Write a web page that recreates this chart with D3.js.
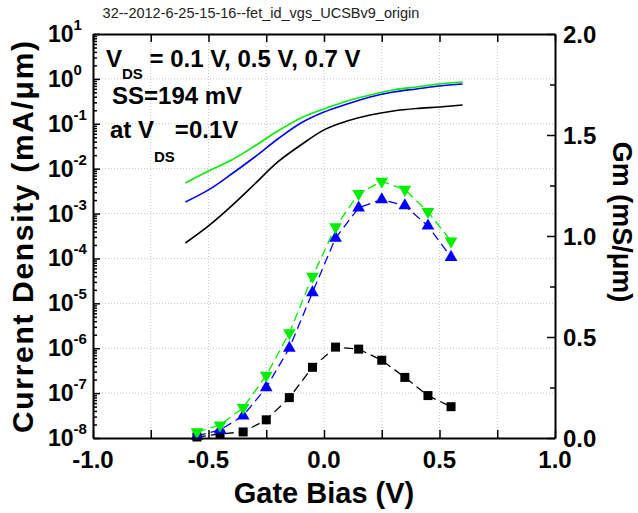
<!DOCTYPE html>
<html lang="en">
<head>
<meta charset="UTF-8">
<title>fet_id_vgs</title>
<script src="https://d3js.org/d3.v7.min.js"></script>
<style>
  body { margin: 0; background: #fff; }
  svg { font-family: Arial, "Liberation Sans", sans-serif; }
  .grid line { stroke: #c4c4c4; stroke-width: 1px; stroke-dasharray: 1,2; }
  .axis path { stroke: #000; stroke-width: 2px; }
  .axis line { stroke: #000; stroke-width: 1.5px; }
</style>
</head>
<body>
<svg width="638" height="513"></svg>
<script>
// Id curves (left axis, log)
const vgCurve = [-0.6, -0.5, -0.4, -0.3, -0.2, -0.1, 0, 0.1, 0.2, 0.3, 0.4, 0.5, 0.6];
const idGreen = [4.8e-3, 8.9e-3, 1.56e-2, 3.2e-2, 6.9e-2, 0.135, 0.214, 0.322, 0.438, 0.566, 0.66, 0.77, 0.85];
const idBlue  = [1.81e-3, 3.36e-3, 7.6e-3, 1.82e-2, 4.58e-2, 0.104, 0.183, 0.276, 0.395, 0.51, 0.596, 0.695, 0.77];
const idBlack = [2.21e-4, 5.3e-4, 1.48e-3, 4.56e-3, 1.41e-2, 3.37e-2, 7.3e-2, 0.115, 0.157, 0.193, 0.219, 0.237, 0.262];

// Gm points (right axis, linear)
const vgGm = [-0.55, -0.45, -0.35, -0.25, -0.15, -0.05, 0.05, 0.15, 0.25, 0.35, 0.45, 0.55];
const gmGreen = [0.03, 0.064, 0.15, 0.31, 0.52, 0.80, 1.045, 1.21, 1.27, 1.23, 1.12, 0.975];
const gmBlue  = [0.01, 0.04, 0.11, 0.25, 0.445, 0.72, 0.99, 1.14, 1.18, 1.15, 1.05, 0.895];
const gmBlack = [0.005, 0.02, 0.03, 0.09, 0.20, 0.35, 0.45, 0.44, 0.385, 0.30, 0.21, 0.155];

const xTicks = [-1, -0.5, 0, 0.5, 1];
const xMinor = [-1, -0.75, -0.5, -0.25, 0, 0.25, 0.5, 0.75, 1];
const yExp = [1, 0, -1, -2, -3, -4, -5, -6, -7, -8];
const y2Ticks = [0, 0.5, 1, 1.5, 2];
const y2Minor = [0.25, 0.75, 1.25, 1.75];

const green = "#00ee00", blue = "#0000ff", black = "#000000";

const svg = d3.select("svg");
const L = 93, R = 555, T = 34, B = 438;

const x = d3.scaleLinear().domain([-1, 1]).range([L, R]);
const y = d3.scaleLog().domain([1e-8, 10]).range([B, T]);
const y2 = d3.scaleLinear().domain([0, 2]).range([B, T]);

// title
svg.append("text").attr("x", 261).attr("y", 18).attr("text-anchor", "middle")
  .style("font-size", "14.5px").attr("fill", "#222")
  .text("32--2012-6-25-15-16--fet_id_vgs_UCSBv9_origin");

// grid
const grid = svg.append("g").attr("class", "grid");
grid.selectAll(".gv").data(xMinor.slice(1, -1)).enter().append("line")
  .attr("x1", d => x(d)).attr("x2", d => x(d)).attr("y1", T).attr("y2", B);
grid.selectAll(".gh").data(yExp.slice(1, -1)).enter().append("line")
  .attr("x1", L).attr("x2", R).attr("y1", d => y(Math.pow(10, d))).attr("y2", d => y(Math.pow(10, d)));

// Id curves
const idLine = d3.line().x(d => x(d[0])).y(d => y(d[1])).curve(d3.curveMonotoneX);
[[idBlack, black], [idBlue, blue], [idGreen, green]].forEach(([vals, c]) => {
  svg.append("path").datum(vgCurve.map((v, i) => [v, vals[i]]))
    .attr("d", idLine).attr("fill", "none").attr("stroke", c).attr("stroke-width", 1.6);
});

// Gm dashed lines + markers
const gmLine = d3.line().x(d => x(d[0])).y(d => y2(d[1]));
const series = [
  [gmBlack, black, d3.symbolSquare, 81, 0],
  [gmBlue, blue, d3.symbolTriangle, 70, 0],
  [gmGreen, green, d3.symbolTriangle, 70, 180]
];
series.forEach(([vals, c]) => {
  svg.append("path").datum(vgGm.map((v, i) => [v, vals[i]]))
    .attr("d", gmLine).attr("fill", "none").attr("stroke", c)
    .attr("stroke-width", 1.3).attr("stroke-dasharray", "9,5");
});
series.forEach(([vals, c, sym, size, rot]) => {
  svg.append("g").selectAll("path").data(vgGm.map((v, i) => [v, vals[i]])).enter()
    .append("path")
    .attr("d", d3.symbol().type(sym).size(size))
    .attr("transform", d => `translate(${x(d[0])},${y2(d[1])}) rotate(${rot})`)
    .attr("fill", c);
});

// axes
svg.append("g").attr("class", "axis").attr("transform", `translate(0,${B})`)
  .call(d3.axisBottom(x).tickValues(xMinor).tickSize(-8).tickSizeOuter(0).tickFormat(""));
svg.append("g").attr("class", "axis").attr("transform", `translate(0,${T})`)
  .call(d3.axisTop(x).tickValues(xMinor).tickSize(-8).tickSizeOuter(0).tickFormat(""));

const yMinor = [];
yExp.slice(1).forEach(e => { for (let k = 2; k <= 9; k++) yMinor.push(k * Math.pow(10, e)); });
svg.append("g").attr("class", "axis").attr("transform", `translate(${L},0)`)
  .call(d3.axisLeft(y).tickValues(yExp.map(e => Math.pow(10, e))).tickSize(-7).tickSizeOuter(0).tickFormat(""));
svg.append("g").attr("class", "axis").attr("transform", `translate(${L},0)`)
  .call(d3.axisLeft(y).tickValues(yMinor).tickSize(-4).tickSizeOuter(0).tickFormat(""))
  .select(".domain").remove();

svg.append("g").attr("class", "axis").attr("transform", `translate(${R},0)`)
  .call(d3.axisRight(y2).tickValues(y2Ticks).tickSize(-8).tickSizeOuter(0).tickFormat(""));
svg.append("g").attr("class", "axis").attr("transform", `translate(${R},0)`)
  .call(d3.axisRight(y2).tickValues(y2Minor).tickSize(-5).tickSizeOuter(0).tickFormat(""))
  .select(".domain").remove();

// tick labels
svg.append("g").selectAll("text").data(xTicks).enter().append("text")
  .attr("x", d => x(d)).attr("y", 468).attr("text-anchor", "middle")
  .style("font-size", "24px").style("font-weight", "bold")
  .text(d => d.toFixed(1));

const yl = svg.append("g").selectAll("text").data(yExp).enter().append("text")
  .attr("x", 48).attr("y", d => y(Math.pow(10, d)) + 8)
  .style("font-weight", "bold");
yl.append("tspan").style("font-size", "23px").text("10");
yl.append("tspan").attr("dy", -12).style("font-size", "15px").text(d => String(d));

svg.append("g").selectAll("text").data(y2Ticks).enter().append("text")
  .attr("x", 563).attr("y", d => y2(d) + 8.5)
  .style("font-size", "24px").style("font-weight", "bold")
  .text(d => d.toFixed(1));

// axis titles
svg.append("text").attr("x", 324).attr("y", 503).attr("text-anchor", "middle")
  .style("font-size", "29px").style("font-weight", "bold").text("Gate Bias (V)");
svg.append("text").attr("transform", "translate(33,237) rotate(-90)").attr("text-anchor", "middle")
  .attr("textLength", 392).attr("lengthAdjust", "spacing")
  .style("font-size", "30px").style("font-weight", "bold").text("Current Density (mA/\u03bcm)");
svg.append("text").attr("transform", "translate(613,222) rotate(90)").attr("text-anchor", "middle")
  .style("font-size", "27px").style("font-weight", "bold").text("Gm (mS/\u03bcm)");

// annotations
const ann = svg.append("g").style("font-weight", "bold").style("font-size", "24px");
const t1 = ann.append("text").attr("x", 106).attr("y", 67);
t1.append("tspan").text("V");
t1.append("tspan").attr("dy", 12).style("font-size", "15px").text("DS");
t1.append("tspan").attr("dy", -12).text(" = 0.1 V, 0.5 V, 0.7 V");
ann.append("text").attr("x", 112).attr("y", 104).text("SS=194 mV");
const t3 = ann.append("text").attr("x", 110).attr("y", 138);
t3.append("tspan").text("at V");
t3.append("tspan").attr("dy", 24).style("font-size", "15px").text("DS");
t3.append("tspan").attr("dy", -24).text("=0.1V");
</script>
</body>
</html>
